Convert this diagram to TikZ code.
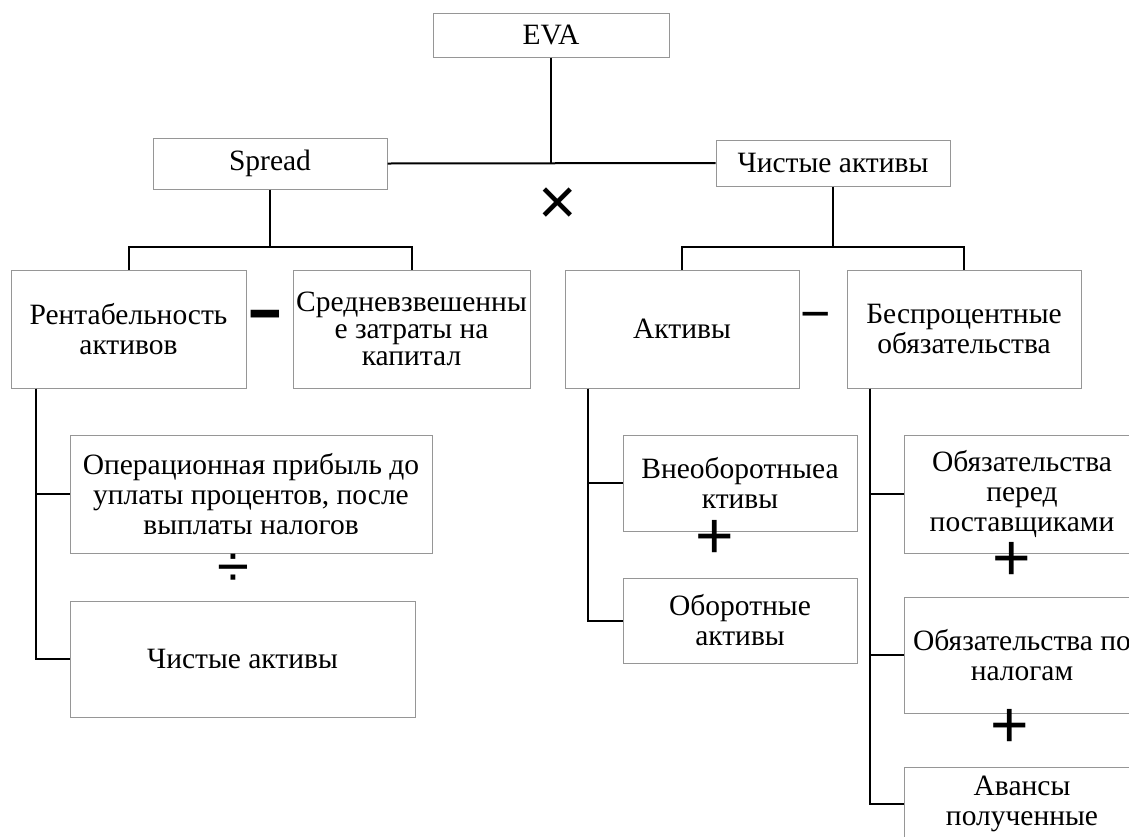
\documentclass[tikz,border=0pt]{standalone}
\usepackage{fontspec}
\setmainfont{Liberation Serif}
\newfontfamily\signfont{Liberation Sans}
\newfontfamily\blockfont{DejaVu Sans}
\begin{document}
\begin{tikzpicture}[x=1pt,y=-1pt]
\tikzstyle{every node}=[font=\fontsize{29.5}{30}\selectfont]
\tikzstyle{box}=[draw={rgb,255:red,150;green,150;blue,150}, line width=1pt, align=center, inner sep=0pt]
\tikzstyle{link}=[line width=2pt]
\tikzstyle{sign}=[font=\signfont\fontsize{66}{66}\selectfont, inner sep=0pt]
\useasboundingbox (0,0) rectangle (1129,836);
\clip (0,0) rectangle (1129,836);
% top level
\node [box, minimum width=236, minimum height=44] (eva) at (551,35) {EVA};
\node [box, minimum width=234, minimum height=51] (spread) at (270,163.5) {Spread};
\node [box, minimum width=234, minimum height=46] (net) at (833,163) {Чистые активы};
% second level
\node [box, minimum width=235, minimum height=118] (roa) at (128.5,329) {Рентабельность\\активов};
\node [box, minimum width=237, minimum height=118, font=\fontsize{29.5}{27}\selectfont] (wacc) at (411.5,329) {Средневзвешенны\\е затраты на\\капитал};
\node [box, minimum width=234, minimum height=118] (assets) at (682,329) {Активы};
\node [box, minimum width=234, minimum height=118] (nil) at (964,329) {Беспроцентные\\обязательства};
% third level
\node [box, minimum width=362, minimum height=118] (nopat) at (251,494) {Операционная прибыль до\\уплаты процентов, после\\выплаты налогов};
\node [box, minimum width=345, minimum height=116] (netlow) at (242.5,659) {Чистые активы};
\node [box, minimum width=234, minimum height=96] (fixed) at (740,483) {Внеоборотныеа\\ктивы};
\node [box, minimum width=234, minimum height=85] (current) at (740,620.5) {Оборотные\\активы};
\node [box, minimum width=236, minimum height=118] (payables) at (1022,494) {Обязательства\\перед\\поставщиками};
\node [box, minimum width=236, minimum height=116] (taxes) at (1022,655) {Обязательства по\\налогам};
\node [box, minimum width=236, minimum height=74] (advances) at (1022,804) {Авансы\\полученные};
% connectors
\draw [link] (eva.south) -- (eva.south |- spread.east);
\draw [link] (spread.east) -- (net.west);
\draw [link] (spread.south) -- ++(0,57) coordinate (jl);
\draw [link] (roa.north) |- (jl) -| (wacc.north);
\draw [link] (net.south) -- ++(0,60) coordinate (jr);
\draw [link] (assets.north) |- (jr) -| (nil.north);
\draw [link] ([xshift=25]roa.south west) |- (nopat.west);
\draw [link] ([xshift=25]roa.south west) |- (netlow.west);
\draw [link] ([xshift=23]assets.south west) |- (fixed.west);
\draw [link] ([xshift=23]assets.south west) |- (current.west);
\draw [link] ([xshift=23]nil.south west) |- (payables.west);
\draw [link] ([xshift=23]nil.south west) |- (taxes.west);
\draw [link] ([xshift=23]nil.south west) |- (advances.west);
% operation signs
\node [sign] (times) at (558,206) {×};
\node [sign, font=\blockfont\fontsize{31}{31}\selectfont] (minusl) at (265,315) {\scalebox{1.2}[0.67]{▬}};
\node [sign, font=\signfont\fontsize{52}{52}\selectfont] (minusr) at (816,322) {−};
\node [sign, font=\signfont\fontsize{58}{58}\selectfont] (div) at (233,570) {÷};
\node [sign] (plusa) at (715,539) {+};
\node [sign] (plusb) at (1012,561) {+};
\node [sign] (plusc) at (1010,728) {+};
\end{tikzpicture}
\end{document}
